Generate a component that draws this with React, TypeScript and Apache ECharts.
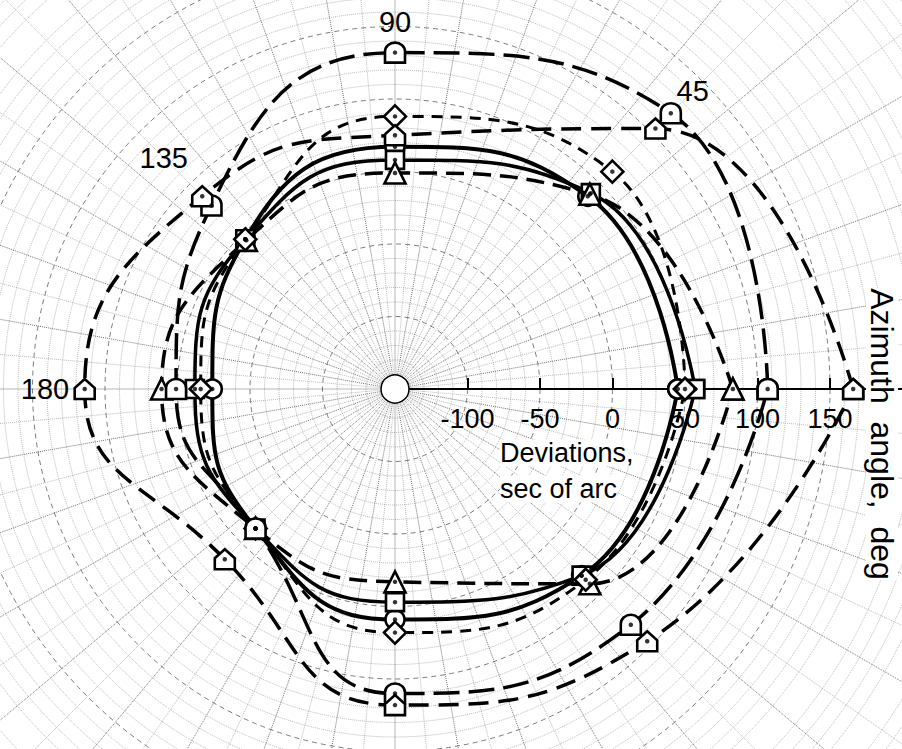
import React, { useEffect, useRef } from "react";
import * as echarts from "echarts";

// Azimuth angles (deg) at which deviations were measured
const angles = [0, 45, 90, 135, 180, 225, 270, 315];
// Deviations, sec of arc, one series per marker shape
const circleVals = [45, 38, 17, -4, -24, -14, 9, 32];
const squareVals = [57, 41, 8, -4, -12, -14, -3, 32];
const triangleVals = [83, 40, -1, -5, 11, -14, -17, 40];
const diamondVals = [50, 62, 38, -4, -16, -14, 18, 36];
const archVals = [107, 119, 82, 29, 1, -14, 60, 80];
const houseVals = [166, 104, 25, 38, 64, 16, 68, 96];

// radial tick labels
const radialTicks = [-100, -50, 0, 50, 100, 150];
// angle labels shown on the chart
const angleLabelValues = [45, 90, 135, 180];
const angleLabelTexts = ["45", "90", "135", "180"];

const CX = 395;
const CY = 389;
const R_MIN = -150;
const R_MAX = 300;
const PX_PER_UNIT = 1.45;
const OUTER = (R_MAX - R_MIN) * PX_PER_UNIT;
const angleLabelRadius = [421, 367, 327, 350];

const FONT = "'Liberation Sans', Arial, sans-serif";

const ARCH = "path://M0 20 V9 A10 9 0 0 1 20 9 V20 Z";
const HOUSE = "path://M0 20 V9 L10 0 L20 9 V20 Z";

function loop(vals: number[]) {
  const d = vals.map((v, i) => [v, angles[i]]);
  d.push([vals[0], 360]);
  return d;
}

export default function App() {
  const ref = useRef<HTMLDivElement>(null);
  useEffect(() => {
    if (!ref.current) return;
    const chart = echarts.init(ref.current, undefined, { renderer: "svg" });

    const seriesDefs = [
      { name: "circle", vals: circleVals, symbol: "circle", size: 19, line: { type: "solid", width: 4 } },
      { name: "square", vals: squareVals, symbol: "rect", size: 18, line: { type: "solid", width: 3.5 } },
      { name: "triangle", vals: triangleVals, symbol: "triangle", size: 21, line: { type: [18, 9], width: 3.5 } },
      { name: "diamond", vals: diamondVals, symbol: "diamond", size: 22, line: { type: [11, 8], width: 3 } },
      { name: "arch", vals: archVals, symbol: ARCH, size: 20, line: { type: [26, 9], width: 3.5 } },
      { name: "house", vals: houseVals, symbol: HOUSE, size: 20, line: { type: [20, 10], width: 3.5 } },
    ];

    const lineSeries = seriesDefs.map((s, i) => ({
      type: "line",
      name: s.name,
      coordinateSystem: "polar",
      polarIndex: 0,
      data: loop(s.vals),
      smooth: 0.5,
      symbol: s.symbol,
      symbolSize: s.size,
      showAllSymbol: true,
      lineStyle: { color: "#000", width: s.line.width, type: s.line.type as any },
      itemStyle: { color: "#fff", borderColor: "#000", borderWidth: 2.6 },
      z: 3 + i,
    }));

    const dotData: number[][] = [];
    seriesDefs.forEach((s) => s.vals.forEach((v, i) => dotData.push([v, angles[i]])));

    const gridLine = { color: "#444", type: "dotted" as const, width: 1, opacity: 0.75 };
    const minorLine = { color: "#666", type: "dotted" as const, width: 1, opacity: 0.45 };

    chart.setOption({
      animation: false,
      backgroundColor: "#fff",
      polar: [
        { center: [CX, CY], radius: [0, OUTER] },
        { center: [CX, CY], radius: [0, OUTER] },
      ],
      angleAxis: [
        {
          polarIndex: 0,
          type: "value",
          min: 0,
          max: 360,
          interval: 10,
          startAngle: 0,
          clockwise: false,
          axisLine: { show: false },
          axisTick: { show: false },
          axisLabel: { show: false },
          splitLine: { show: true, lineStyle: gridLine },
          minorTick: { show: false, splitNumber: 2 },
          minorSplitLine: { show: true, lineStyle: minorLine },
        },
        {
          polarIndex: 1,
          type: "value",
          min: 0,
          max: 360,
          interval: 10,
          startAngle: 0,
          clockwise: false,
          axisLine: { show: false },
          axisTick: { show: false },
          axisLabel: { show: false },
          splitLine: { show: false },
        },
      ],
      radiusAxis: [
        {
          polarIndex: 0,
          type: "value",
          min: R_MIN,
          max: R_MAX,
          interval: 50,
          axisLine: { show: true, lineStyle: { color: "#000", width: 1.8 } },
          axisTick: {
            show: true,
            length: 11,
            customValues: radialTicks,
            lineStyle: { color: "#000", width: 2 },
          },
          axisLabel: {
            show: true,
            customValues: radialTicks,
            margin: -43,
            fontSize: 27,
            color: "#000",
            fontFamily: FONT,
          },
          splitLine: { show: true, lineStyle: { color: "#444", type: [5, 4], width: 1, opacity: 0.7 } },
          minorTick: { show: false, splitNumber: 5 },
          minorSplitLine: { show: true, lineStyle: minorLine },
        },
        {
          polarIndex: 1,
          type: "value",
          min: R_MIN,
          max: R_MAX,
          interval: 50,
          axisLine: { show: false },
          axisTick: {
            show: true,
            inside: true,
            length: 11,
            customValues: radialTicks,
            lineStyle: { color: "#000", width: 2 },
          },
          axisLabel: { show: false },
          splitLine: { show: false },
        },
      ],
      graphic: [
        {
          type: "circle",
          shape: { cx: CX, cy: CY, r: 14 },
          style: { fill: "#fff", stroke: "#000", lineWidth: 1.5 },
          z: 100,
        },
        ...angleLabelValues.map((a, i) => ({
          type: "text",
          x: CX + angleLabelRadius[i] * Math.cos((a * Math.PI) / 180),
          y: CY - angleLabelRadius[i] * Math.sin((a * Math.PI) / 180),
          style: {
            text: angleLabelTexts[i],
            fontSize: 29,
            fontFamily: FONT,
            fill: "#000",
            align: "center",
            verticalAlign: "middle",
          },
          z: 100,
        })),
        {
          type: "text",
          x: 500,
          y: 453,
          style: {
            text: "Deviations,",
            fontSize: 27,
            fontFamily: FONT,
            fill: "#000",
            align: "left",
            verticalAlign: "middle",
            backgroundColor: "#fff",
          },
          z: 100,
        },
        {
          type: "text",
          x: 500,
          y: 489,
          style: {
            text: "sec of arc",
            fontSize: 27,
            fontFamily: FONT,
            fill: "#000",
            align: "left",
            verticalAlign: "middle",
            backgroundColor: "#fff",
          },
          z: 100,
        },
        {
          type: "text",
          x: 882,
          y: 434,
          rotation: -Math.PI / 2,
          style: {
            text: "Azimuth  angle,  deg",
            fontSize: 32,
            fontFamily: FONT,
            fill: "#000",
            align: "center",
            verticalAlign: "middle",
            backgroundColor: "#fff",
          },
          z: 100,
        },
      ],
      series: [
        ...lineSeries,
        {
          type: "scatter",
          coordinateSystem: "polar",
          polarIndex: 0,
          data: dotData,
          symbol: "circle",
          symbolSize: 4.5,
          itemStyle: { color: "#000" },
          z: 20,
          silent: true,
        },
      ],
    } as any);

    return () => chart.dispose();
  }, []);

  return (
    <div
      ref={ref}
      style={{ position: "fixed", left: 0, top: 0, width: 902, height: 749 }}
    />
  );
}
